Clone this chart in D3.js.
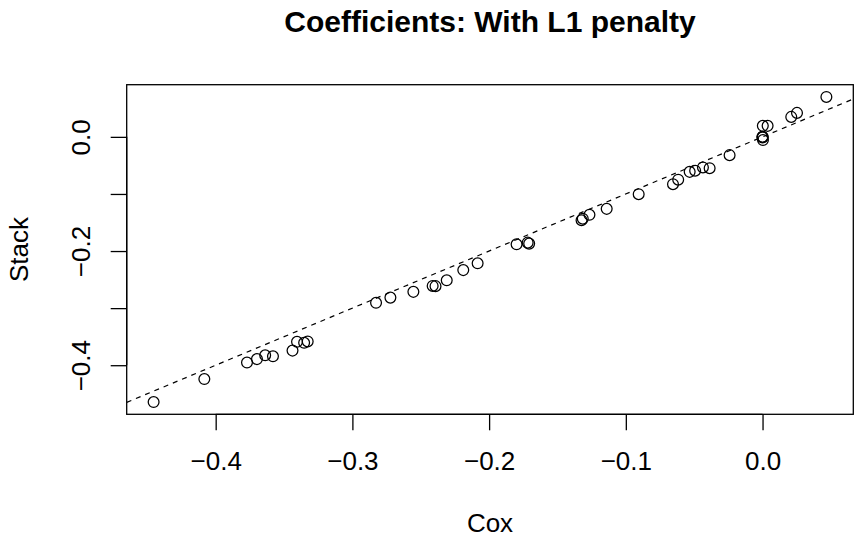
<!DOCTYPE html>
<html>
<head>
<meta charset="utf-8">
<script src="https://cdn.jsdelivr.net/npm/d3@7"></script>
<style>
  html, body { margin: 0; padding: 0; background: #ffffff; }
  svg { display: block; }
  text { font-family: "Liberation Sans", Arial, Helvetica, sans-serif; fill: #000; }
</style>
</head>
<body>
<svg id="chart" width="860" height="542"></svg>
<script>
// ---- data ----
const chartTitle = "Coefficients: With L1 penalty";
const xLabel = "Cox";
const yLabel = "Stack";

const coxValues = [
  -0.4454, -0.4083, -0.3771, -0.3698, -0.3638, -0.3581, -0.3438, -0.3405, -0.3353, -0.3327,
  -0.2827, -0.2722, -0.2554, -0.2413, -0.2392, -0.2310, -0.2189, -0.2084,
  -0.1799, -0.1718, -0.1707, -0.1324, -0.1315, -0.1266, -0.1140,
  -0.0906, -0.0655, -0.0617, -0.0533, -0.0493, -0.0436, -0.0387, -0.0241,
  0.0000, 0.0000, 0.0000, 0.0003, 0.0002, 0.0037, 0.0210, 0.0252, 0.0467
];
const stackValues = [
  -0.4646, -0.4243, -0.3954, -0.3893, -0.3827, -0.3844, -0.3744, -0.3590, -0.3608, -0.3583,
  -0.2907, -0.2816, -0.2715, -0.2611, -0.2615, -0.2513, -0.2334, -0.2215,
  -0.1882, -0.1853, -0.1870, -0.1459, -0.1433, -0.1366, -0.1261,
  -0.1004, -0.0829, -0.0750, -0.0613, -0.0592, -0.0536, -0.0548, -0.0320,
  0.0000, 0.0000, -0.0010, -0.0055, 0.0193, 0.0193, 0.0350, 0.0420, 0.0700
];

const xTickValues = [-0.4, -0.3, -0.2, -0.1, 0.0];
const xTickLabels = ["\u22120.4", "\u22120.3", "\u22120.2", "\u22120.1", "0.0"];
const yTickValues = [-0.4, -0.3, -0.2, -0.1, 0.0];
const yTickLabels = ["\u22120.4", "", "\u22120.2", "", "0.0"];

// reference line: intercept 0, slope 1
const refIntercept = 0;
const refSlope = 1;

// ---- layout ----
const plot = { left: 126.7, right: 853.3, top: 84.7, bottom: 414.3 };
const fontSize = 26;
const titleSize = 30;

const svg = d3.select("#chart");

function rDomain(vals) {
  const [mn, mx] = d3.extent(vals);
  const pad = (mx - mn) * 0.04;
  return [mn - pad, mx + pad];
}

const x = d3.scaleLinear().domain(rDomain(coxValues)).range([plot.left, plot.right]);
const y = d3.scaleLinear().domain(rDomain(stackValues)).range([plot.bottom, plot.top]);

svg.append("defs").append("clipPath").attr("id", "clip")
  .append("rect")
  .attr("x", plot.left).attr("y", plot.top)
  .attr("width", plot.right - plot.left).attr("height", plot.bottom - plot.top);

const xd = x.domain();
svg.append("line")
  .attr("clip-path", "url(#clip)")
  .attr("x1", x(xd[0])).attr("y1", y(refIntercept + refSlope * xd[0]))
  .attr("x2", x(xd[1])).attr("y2", y(refIntercept + refSlope * xd[1]))
  .attr("stroke", "#000").attr("stroke-width", 1.2)
  .attr("stroke-dasharray", "5,5");

const pts = coxValues.map((c, i) => ({ c, s: stackValues[i] }));
svg.append("g").selectAll("circle").data(pts).join("circle")
  .attr("cx", d => x(d.c)).attr("cy", d => y(d.s))
  .attr("r", 5.4)
  .attr("fill", "none").attr("stroke", "#000").attr("stroke-width", 1.25);

svg.append("rect")
  .attr("x", plot.left).attr("y", plot.top)
  .attr("width", plot.right - plot.left).attr("height", plot.bottom - plot.top)
  .attr("fill", "none").attr("stroke", "#000").attr("stroke-width", 1.3);

const xAxis = d3.axisBottom(x).tickValues(xTickValues)
  .tickSize(16).tickPadding(0)
  .tickFormat((d, i) => xTickLabels[i]);
const gx = svg.append("g").attr("transform", `translate(0,${plot.bottom})`).call(xAxis);
gx.select(".domain").attr("d", `M${x(xTickValues[0])},0H${x(xTickValues[xTickValues.length-1])}`)
  .attr("stroke", "#000").attr("stroke-width", 1.3);
gx.selectAll(".tick line").attr("stroke", "#000").attr("stroke-width", 1.3);
gx.selectAll(".tick text")
  .attr("y", 56).attr("dy", null)
  .style("font-size", fontSize + "px").style("font-family", "'Liberation Sans', Arial, sans-serif")
  .attr("fill", "#000");

const yAxis = d3.axisLeft(y).tickValues(yTickValues)
  .tickSize(16).tickPadding(0)
  .tickFormat((d, i) => yTickLabels[i]);
const gy = svg.append("g").attr("transform", `translate(${plot.left},0)`).call(yAxis);
gy.select(".domain").attr("d", `M0,${y(yTickValues[0])}V${y(yTickValues[yTickValues.length-1])}`)
  .attr("stroke", "#000").attr("stroke-width", 1.3);
gy.selectAll(".tick line").attr("stroke", "#000").attr("stroke-width", 1.3);
gy.selectAll(".tick text")
  .attr("x", null).attr("dy", null)
  .attr("text-anchor", "middle")
  .attr("transform", "translate(-37,0) rotate(-90)")
  .attr("y", 0)
  .style("font-size", fontSize + "px").style("font-family", "'Liberation Sans', Arial, sans-serif")
  .attr("fill", "#000");

svg.append("text")
  .attr("x", (plot.left + plot.right) / 2).attr("y", plot.bottom + 118)
  .attr("text-anchor", "middle").style("font-size", fontSize + "px")
  .text(xLabel);
svg.append("text")
  .attr("transform", `translate(${plot.left - 99},${(plot.top + plot.bottom) / 2}) rotate(-90)`)
  .attr("text-anchor", "middle").style("font-size", fontSize + "px")
  .text(yLabel);

svg.append("text")
  .attr("x", (plot.left + plot.right) / 2).attr("y", 32)
  .attr("text-anchor", "middle").style("font-size", titleSize + "px")
  .style("font-weight", "bold")
  .text(chartTitle);
</script>
</body>
</html>
